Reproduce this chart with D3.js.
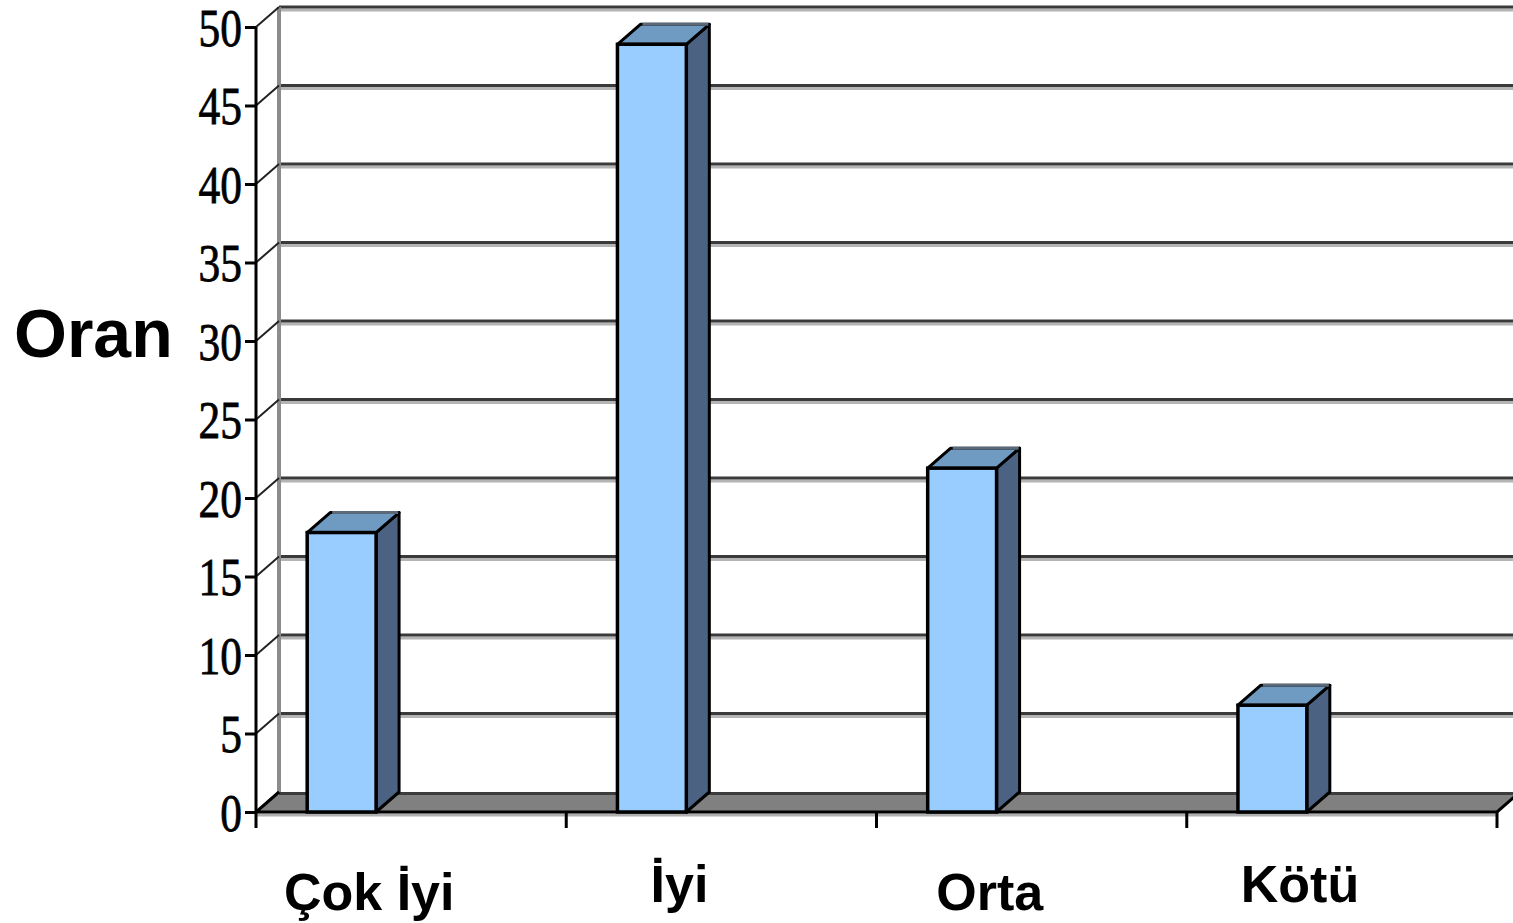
<!DOCTYPE html>
<html>
<head>
<meta charset="utf-8">
<script src="https://cdn.jsdelivr.net/npm/d3@7"></script>
<style>
  body { margin: 0; background: #fff; }
  svg { display: block; }
</style>
</head>
<body>
<div class="chart"></div>
<script>
// chart data
var categories = ['Çok İyi', 'İyi', 'Orta', 'Kötü'];
var oranValues = [17.8, 48.9, 21.9, 6.8];
var yTicks = [0, 5, 10, 15, 20, 25, 30, 35, 40, 45, 50];
var yTitle = 'Oran';

var W = 1513, H = 923;
// depth offset of the 3d box
var dx = 23, dy = -20;

var svg = d3.select('.chart')
    .append('svg')
    .attr('width', W)
    .attr('height', H);

var y = d3.scaleLinear()
    .domain([0, 50])
    .range([812, 27]);

var x = d3.scaleBand()
    .domain(categories)
    .range([256, 1497])
    .paddingInner(0)
    .paddingOuter(0);

var bw = x.bandwidth();
var x0 = x.range()[0], x1 = x.range()[1];

// back wall gridlines
var grid = svg.append('g');
grid.selectAll('line.lt')
    .data(yTicks.filter(d => d > 0))
    .enter()
    .append('line')
    .attr('x1', x0 + dx).attr('x2', W)
    .attr('y1', d => y(d) + dy + 3).attr('y2', d => y(d) + dy + 3)
    .attr('stroke', '#b4b4b4')
    .attr('stroke-width', 3);
grid.selectAll('line.dk')
    .data(yTicks.filter(d => d > 0))
    .enter()
    .append('line')
    .attr('x1', x0 + dx).attr('x2', W)
    .attr('y1', d => y(d) + dy).attr('y2', d => y(d) + dy)
    .attr('stroke', '#3a3a3a')
    .attr('stroke-width', 3);

// side wall back edge
svg.append('line')
    .attr('x1', x0 + dx).attr('x2', x0 + dx)
    .attr('y1', y(50) + dy).attr('y2', y(0) + dy)
    .attr('stroke', '#8c8c8c')
    .attr('stroke-width', 4);

// side wall diagonals
svg.append('g').selectAll('line')
    .data(yTicks)
    .enter()
    .append('line')
    .attr('x1', x0).attr('x2', x0 + dx)
    .attr('y1', d => y(d)).attr('y2', d => y(d) + dy)
    .attr('stroke', '#222')
    .attr('stroke-width', 2);

// floor
var y0 = y(0);
svg.append('path')
    .attr('d', `M${x0},${y0}L${x1},${y0}L${x1 + dx},${y0 + dy}L${x0 + dx},${y0 + dy}Z`)
    .attr('fill', '#808080');
svg.append('line')
    .attr('x1', x0 + dx).attr('x2', W)
    .attr('y1', y0 + dy + 1.5).attr('y2', y0 + dy + 1.5)
    .attr('stroke', '#3c3c3c')
    .attr('stroke-width', 3);
svg.append('line')
    .attr('x1', x0).attr('x2', x1)
    .attr('y1', y0 + 3).attr('y2', y0 + 3)
    .attr('stroke', '#b0b0b0')
    .attr('stroke-width', 3);
svg.append('path')
    .attr('d', `M${x0 + dx},${y0 + dy}L${x0},${y0}L${x1},${y0}L${x1 + dx},${y0 + dy}`)
    .attr('fill', 'none')
    .attr('stroke', '#000')
    .attr('stroke-width', 3);

// bars
var bars = svg.append('g').selectAll('g')
    .data(categories.map((c, i) => ({ cat: c, v: oranValues[i] })))
    .enter()
    .append('g');

var bx = d => x(d.cat) + bw * 0.165;
var bwid = bw * 0.222;

// side face
bars.append('path')
    .attr('d', d => {
        var l = bx(d) + bwid, t = y(d.v), b = y(0);
        return `M${l},${b}L${l},${t}L${l + dx},${t + dy}L${l + dx},${b + dy}Z`;
    })
    .attr('fill', '#4b6282')
    .attr('stroke', '#000')
    .attr('stroke-width', 3)
    .attr('stroke-linejoin', 'round');
// top face
bars.append('path')
    .attr('d', d => {
        var l = bx(d), r = l + bwid, t = y(d.v);
        return `M${l},${t}L${r},${t}L${r + dx},${t + dy}L${l + dx},${t + dy}Z`;
    })
    .attr('fill', '#6f9ac2')
    .attr('stroke', '#000')
    .attr('stroke-width', 3)
    .attr('stroke-linejoin', 'round');
// back edge of the top in gray
bars.append('line')
    .attr('x1', d => bx(d) + dx + 2).attr('x2', d => bx(d) + bwid + dx - 1)
    .attr('y1', d => y(d.v) + dy).attr('y2', d => y(d.v) + dy)
    .attr('stroke', '#5a6a7a')
    .attr('stroke-width', 3);
// front face
bars.append('rect')
    .attr('x', d => bx(d))
    .attr('y', d => y(d.v))
    .attr('width', bwid)
    .attr('height', d => y(0) - y(d.v))
    .attr('fill', '#99ccff')
    .attr('stroke', '#000')
    .attr('stroke-width', 3.5);

// y axis on the front
var yAxis = d3.axisLeft(y)
    .tickValues(yTicks)
    .tickSize(11)
    .tickFormat('');
var yg = svg.append('g')
    .attr('transform', `translate(${x0},0)`)
    .call(yAxis);
yg.select('.domain').remove();
yg.selectAll('.tick line').attr('stroke', '#000').attr('stroke-width', 3);
svg.append('line')
    .attr('x1', x0).attr('x2', x0)
    .attr('y1', y(50)).attr('y2', y(0) + 16)
    .attr('stroke', '#000')
    .attr('stroke-width', 3);

// y tick labels (narrow serif)
svg.append('g').selectAll('text')
    .data(yTicks)
    .enter()
    .append('text')
    .attr('transform', d => `translate(242,${y(d)}) scale(0.82,1)`)
    .attr('dy', '0.35em')
    .attr('text-anchor', 'end')
    .attr('font-family', 'Liberation Serif, Times New Roman, serif')
    .attr('font-size', 53)
    .attr('fill', '#000')
    .attr('stroke', '#000')
    .attr('stroke-width', 0.8)
    .text(d => d);

// x ticks at band edges
var edges = categories.map(c => x(c)).concat([x1]);
svg.append('g').selectAll('line')
    .data(edges.slice(1))
    .enter()
    .append('line')
    .attr('x1', d => d).attr('x2', d => d)
    .attr('y1', y(0)).attr('y2', y(0) + 16)
    .attr('stroke', '#000')
    .attr('stroke-width', 3);

// category labels
svg.append('g').selectAll('text')
    .data(categories)
    .enter()
    .append('text')
    .attr('x', d => x(d) + bw * 0.365)
    .attr('y', (d, i) => i % 2 ? 902 : 910)
    .attr('text-anchor', 'middle')
    .attr('font-family', 'Liberation Sans, Arial, sans-serif')
    .attr('font-weight', 'bold')
    .attr('font-size', 52)
    .attr('fill', '#000')
    .text(d => d);

// axis title
svg.append('text')
    .attr('x', 14)
    .attr('y', 357)
    .attr('font-family', 'Liberation Sans, Arial, sans-serif')
    .attr('font-weight', 'bold')
    .attr('font-size', 68)
    .attr('fill', '#000')
    .text(yTitle);
</script>
</body>
</html>
